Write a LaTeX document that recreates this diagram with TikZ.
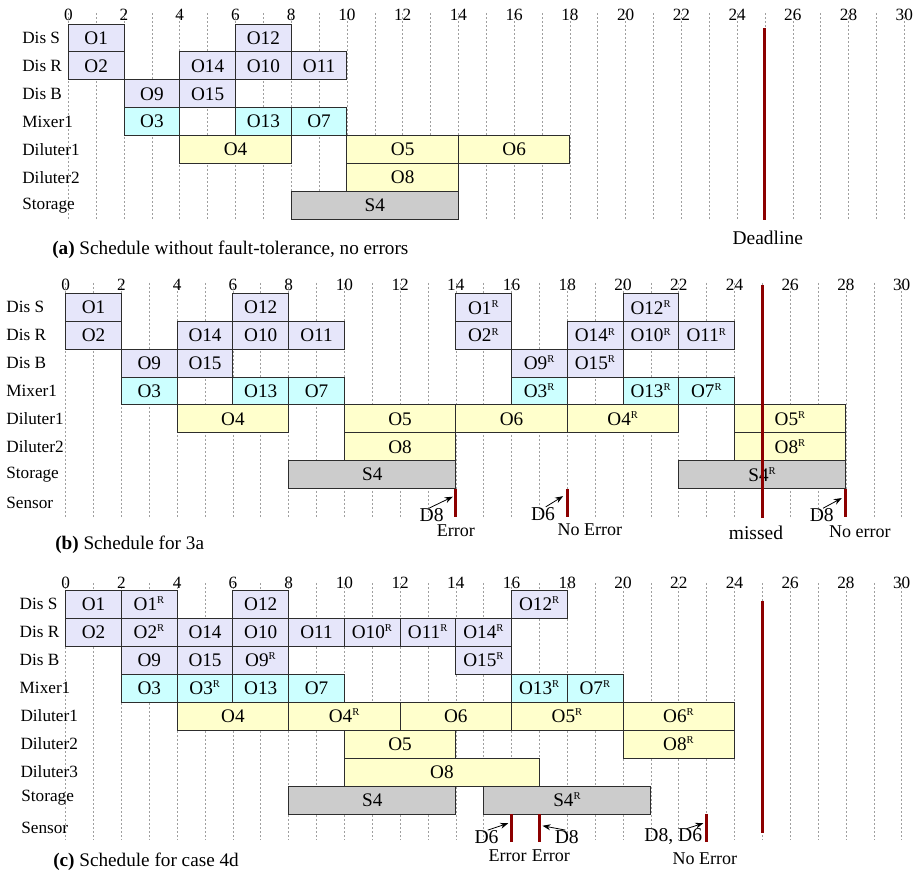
\documentclass[tikz,border=0pt]{standalone}
\usepackage{fontspec}
\setmainfont{Liberation Serif}
\usetikzlibrary{arrows.meta}
\definecolor{dislav}{RGB}{230,230,250}
\definecolor{mixcyan}{RGB}{204,255,255}
\definecolor{diluy}{RGB}{255,255,204}
\definecolor{storgray}{RGB}{204,204,204}
\definecolor{dred}{RGB}{140,0,0}
\definecolor{edgec}{RGB}{45,45,45}
\newcommand\Rs{\textsuperscript{\fontsize{7.9}{8}\selectfont R}}
\newcommand\tk[6]{\node[taskbox,#2,minimum width={(#4-#3)*20.9pt}] (#1) at ({(#3+#4)/2},{#5+0.5}) {#6};}
\tikzset{
  taskbox/.style={draw=edgec, line width=0.75pt, inner sep=0pt, minimum height=20.925pt, font=\fontsize{14.4}{16}\selectfont},
  dis/.style={fill=dislav}, mix/.style={fill=mixcyan}, dil/.style={fill=diluy}, sto/.style={fill=storgray},
  rowlab/.style={anchor=west, inner sep=0pt, font=\fontsize{12.9}{14}\selectfont},
  ticklab/.style={inner sep=0pt, font=\fontsize{12.9}{14}\selectfont},
  gridline/.style={draw=gray!75, line width=0.5pt, dash pattern=on 1.5pt off 1.5pt},
  redbar/.style={draw=dred, line width=2.25pt},
  arr/.style={-{Stealth[length=6pt,width=4.5pt]}, line width=0.6pt},
  dlab/.style={inner sep=0pt, font=\fontsize{14.7}{16}\selectfont},
  errlab/.style={inner sep=0pt, font=\fontsize{13.5}{15}\selectfont},
  bigl/.style={inner sep=0pt, font=\fontsize{14.6}{16}\selectfont},
  caption/.style={anchor=west, inner sep=0pt, font=\fontsize{14.4}{16}\selectfont}
}
\begin{document}
\begin{tikzpicture}[x=0.75pt,y=-0.75pt]
\useasboundingbox (0,0) rectangle (920,875);

% ---------------- (a) ----------------
\begin{scope}[shift={(68.3,24)},x=20.9pt,y=-20.925pt]
\foreach \i in {0,...,30} \draw[gridline] (\i,-0.39) -- (\i,7.03);
\foreach \i in {0,2,...,30} \node[ticklab] (a\i) at (\i,-0.32) {\i};
\node[rowlab] (aL0) at (-1.66,0.5) {Dis S};
\node[rowlab] (aL1) at (-1.66,1.5) {Dis R};
\node[rowlab] (aL2) at (-1.66,2.5) {Dis B};
\node[rowlab] (aL3) at (-1.66,3.5) {Mixer1};
\node[rowlab] (aL4) at (-1.66,4.5) {Diluter1};
\node[rowlab] (aL5) at (-1.66,5.5) {Diluter2};
\node[rowlab] (aL6) at (-1.66,6.5) {Storage};
\tk{aO1}{dis}{0}{2}{0}{O1}
\tk{aO12}{dis}{6}{8}{0}{O12}
\tk{aO2}{dis}{0}{2}{1}{O2}
\tk{aO14}{dis}{4}{6}{1}{O14}
\tk{aO10}{dis}{6}{8}{1}{O10}
\tk{aO11}{dis}{8}{10}{1}{O11}
\tk{aO9}{dis}{2}{4}{2}{O9}
\tk{aO15}{dis}{4}{6}{2}{O15}
\tk{aO3}{mix}{2}{4}{3}{O3}
\tk{aO13}{mix}{6}{8}{3}{O13}
\tk{aO7}{mix}{8}{10}{3}{O7}
\tk{aO4}{dil}{4}{8}{4}{O4}
\tk{aO5}{dil}{10}{14}{4}{O5}
\tk{aO6}{dil}{14}{18}{4}{O6}
\tk{aO8}{dil}{10}{14}{5}{O8}
\tk{aS4}{sto}{8}{14}{6}{S4}
\coordinate (adlt) at (25,0.14);
\coordinate (adlb) at (25,7.03);
\draw[redbar] (adlt) -- (adlb);
\node[bigl] (adead) at (25.1,7.67) {Deadline};
\end{scope}
\node[caption] (capa) at (52,250) {{\bfseries\fontsize{14.4}{18}\selectfont (a)} Schedule without fault-tolerance, no errors};

% ---------------- (b) ----------------
\begin{scope}[shift={(65.7,293.3)},x=20.9pt,y=-20.925pt]
\foreach \i in {0,...,30} \draw[gridline] (\i,-0.37) -- (\i,8.06);
\foreach \i in {0,2,...,30} \node[ticklab] (b\i) at (\i,-0.3) {\i};
\node[rowlab] (bL0) at (-2.14,0.5) {Dis S};
\node[rowlab] (bL1) at (-2.14,1.5) {Dis R};
\node[rowlab] (bL2) at (-2.14,2.5) {Dis B};
\node[rowlab] (bL3) at (-2.14,3.5) {Mixer1};
\node[rowlab] (bL4) at (-2.14,4.5) {Diluter1};
\node[rowlab] (bL5) at (-2.14,5.5) {Diluter2};
\node[rowlab] (bL6) at (-2.14,6.5) {Storage};
\node[rowlab] (bL7) at (-2.14,7.5) {Sensor};
\tk{bO1}{dis}{0}{2}{0}{O1}
\tk{bO12}{dis}{6}{8}{0}{O12}
\tk{bO1R}{dis}{14}{16}{0}{O1\Rs}
\tk{bO12R}{dis}{20}{22}{0}{O12\Rs}
\tk{bO2}{dis}{0}{2}{1}{O2}
\tk{bO14}{dis}{4}{6}{1}{O14}
\tk{bO10}{dis}{6}{8}{1}{O10}
\tk{bO11}{dis}{8}{10}{1}{O11}
\tk{bO2R}{dis}{14}{16}{1}{O2\Rs}
\tk{bO14R}{dis}{18}{20}{1}{O14\Rs}
\tk{bO10R}{dis}{20}{22}{1}{O10\Rs}
\tk{bO11R}{dis}{22}{24}{1}{O11\Rs}
\tk{bO9}{dis}{2}{4}{2}{O9}
\tk{bO15}{dis}{4}{6}{2}{O15}
\tk{bO9R}{dis}{16}{18}{2}{O9\Rs}
\tk{bO15R}{dis}{18}{20}{2}{O15\Rs}
\tk{bO3}{mix}{2}{4}{3}{O3}
\tk{bO13}{mix}{6}{8}{3}{O13}
\tk{bO7}{mix}{8}{10}{3}{O7}
\tk{bO3R}{mix}{16}{18}{3}{O3\Rs}
\tk{bO13R}{mix}{20}{22}{3}{O13\Rs}
\tk{bO7R}{mix}{22}{24}{3}{O7\Rs}
\tk{bO4}{dil}{4}{8}{4}{O4}
\tk{bO5}{dil}{10}{14}{4}{O5}
\tk{bO6}{dil}{14}{18}{4}{O6}
\tk{bO4R}{dil}{18}{22}{4}{O4\Rs}
\tk{bO5R}{dil}{24}{28}{4}{O5\Rs}
\tk{bO8}{dil}{10}{14}{5}{O8}
\tk{bO8R}{dil}{24}{28}{5}{O8\Rs}
\tk{bS4}{sto}{8}{14}{6}{S4}
\tk{bS4R}{sto}{22}{28}{6}{S4\Rs}
\coordinate (bdlt) at (25,-0.3);
\coordinate (bdlb) at (25,8.06);
\draw[redbar] (bdlt) -- (bdlb);
\node[bigl] (bmissed) at (24.77,8.59) {missed};
% sensor
\coordinate (bs1t) at (14,7); \coordinate (bs1b) at (14,8);
\coordinate (bs2t) at (18,7); \coordinate (bs2b) at (18,8);
\coordinate (bs3t) at (28,7); \coordinate (bs3b) at (28,8);
\draw[redbar] (bs1t) -- (bs1b);
\draw[redbar] (bs2t) -- (bs2b);
\draw[redbar] (bs3t) -- (bs3b);
\node[dlab] (bd8a) at (13.13,7.95) {D8};
\node[dlab] (bd6) at (17.13,7.9) {D6};
\node[dlab] (bd8b) at (27.13,7.95) {D8};
\coordinate (bt1) at (13.89,7.29);
\coordinate (bt2) at (17.85,7.27);
\coordinate (bt3) at (27.85,7.34);
\draw[arr] ([xshift=-2pt]bd8a.north) -- (bt1);
\draw[arr] ([xshift=2pt]bd6.north) -- (bt2);
\draw[arr] ([xshift=1pt]bd8b.north) -- (bt3);
\node[errlab] (be1) at (14,8.5) {Error};
\node[errlab] (be2) at (18.81,8.48) {No Error};
\node[errlab] (be3) at (28.5,8.56) {No error};
\end{scope}
\node[caption] (capb) at (55,545) {{\bfseries\fontsize{14.4}{18}\selectfont (b)} Schedule for 3a};

% ---------------- (c) ----------------
\begin{scope}[shift={(65.7,590)},x=20.9pt,y=-21pt,taskbox/.append style={minimum height=21pt}]
\foreach \i in {0,...,30} \draw[gridline] (\i,-0.25) -- (\i,8.93);
\foreach \i in {0,2,...,30} \node[ticklab] (c\i) at (\i,-0.27) {\i};
\node[rowlab] (cL0) at (-1.66,0.5) {Dis S};
\node[rowlab] (cL1) at (-1.66,1.5) {Dis R};
\node[rowlab] (cL2) at (-1.66,2.5) {Dis B};
\node[rowlab] (cL3) at (-1.66,3.5) {Mixer1};
\node[rowlab] (cL4) at (-1.63,4.5) {Diluter1};
\node[rowlab] (cL5) at (-1.63,5.5) {Diluter2};
\node[rowlab] (cL6) at (-1.63,6.5) {Diluter3};
\node[rowlab] (cL7) at (-1.6,7.4) {Storage};
\node[rowlab] (cL8) at (-1.6,8.5) {Sensor};
\tk{cO1}{dis}{0}{2}{0}{O1}
\tk{cO1R}{dis}{2}{4}{0}{O1\Rs}
\tk{cO12}{dis}{6}{8}{0}{O12}
\tk{cO12R}{dis}{16}{18}{0}{O12\Rs}
\tk{cO2}{dis}{0}{2}{1}{O2}
\tk{cO2R}{dis}{2}{4}{1}{O2\Rs}
\tk{cO14}{dis}{4}{6}{1}{O14}
\tk{cO10}{dis}{6}{8}{1}{O10}
\tk{cO11}{dis}{8}{10}{1}{O11}
\tk{cO10R}{dis}{10}{12}{1}{O10\Rs}
\tk{cO11R}{dis}{12}{14}{1}{O11\Rs}
\tk{cO14R}{dis}{14}{16}{1}{O14\Rs}
\tk{cO9}{dis}{2}{4}{2}{O9}
\tk{cO15}{dis}{4}{6}{2}{O15}
\tk{cO9R}{dis}{6}{8}{2}{O9\Rs}
\tk{cO15R}{dis}{14}{16}{2}{O15\Rs}
\tk{cO3}{mix}{2}{4}{3}{O3}
\tk{cO3R}{mix}{4}{6}{3}{O3\Rs}
\tk{cO13}{mix}{6}{8}{3}{O13}
\tk{cO7}{mix}{8}{10}{3}{O7}
\tk{cO13R}{mix}{16}{18}{3}{O13\Rs}
\tk{cO7R}{mix}{18}{20}{3}{O7\Rs}
\tk{cO4}{dil}{4}{8}{4}{O4}
\tk{cO4R}{dil}{8}{12}{4}{O4\Rs}
\tk{cO6}{dil}{12}{16}{4}{O6}
\tk{cO5R}{dil}{16}{20}{4}{O5\Rs}
\tk{cO6R}{dil}{20}{24}{4}{O6\Rs}
\tk{cO5}{dil}{10}{14}{5}{O5}
\tk{cO8R}{dil}{20}{24}{5}{O8\Rs}
\tk{cO8}{dil}{10}{17}{6}{O8}
\tk{cS4}{sto}{8}{14}{7}{S4}
\tk{cS4R}{sto}{15}{21}{7}{S4\Rs}
\coordinate (cdlt) at (25,0.38);
\coordinate (cdlb) at (25,8.67);
\draw[redbar] (cdlt) -- (cdlb);
% sensor
\coordinate (cs1t) at (16,8); \coordinate (cs1b) at (16,9);
\coordinate (cs2t) at (17,8); \coordinate (cs2b) at (17,9);
\coordinate (cs3t) at (23,8); \coordinate (cs3b) at (23,9);
\draw[redbar] (cs1t) -- (cs1b);
\draw[redbar] (cs2t) -- (cs2b);
\draw[redbar] (cs3t) -- (cs3b);
\node[dlab] (cd6) at (15.1,8.82) {D6};
\node[dlab] (cd8) at (17.98,8.82) {D8};
\node[dlab] (cd86) at (21.8,8.82) {D8, D6};
\coordinate (ct1) at (15.88,8.33);
\coordinate (ct2) at (17.11,8.42);
\coordinate (ct3) at (22.88,8.33);
\draw[arr] ([xshift=1pt]cd6.north) -- (ct1);
\draw[arr] ([xshift=-1pt]cd8.north) -- (ct2);
\draw[arr] ([xshift=10pt]cd86.north) -- (ct3);
\node[errlab] (ce1) at (15.86,9.5) {Error};
\node[errlab] (ce2) at (17.41,9.5) {Error};
\node[errlab] (ce3) at (22.94,9.61) {No Error};
\end{scope}
\node[caption] (capc) at (53,862) {{\bfseries\fontsize{14.4}{18}\selectfont (c)} Schedule for case 4d};
\end{tikzpicture}
\end{document}
